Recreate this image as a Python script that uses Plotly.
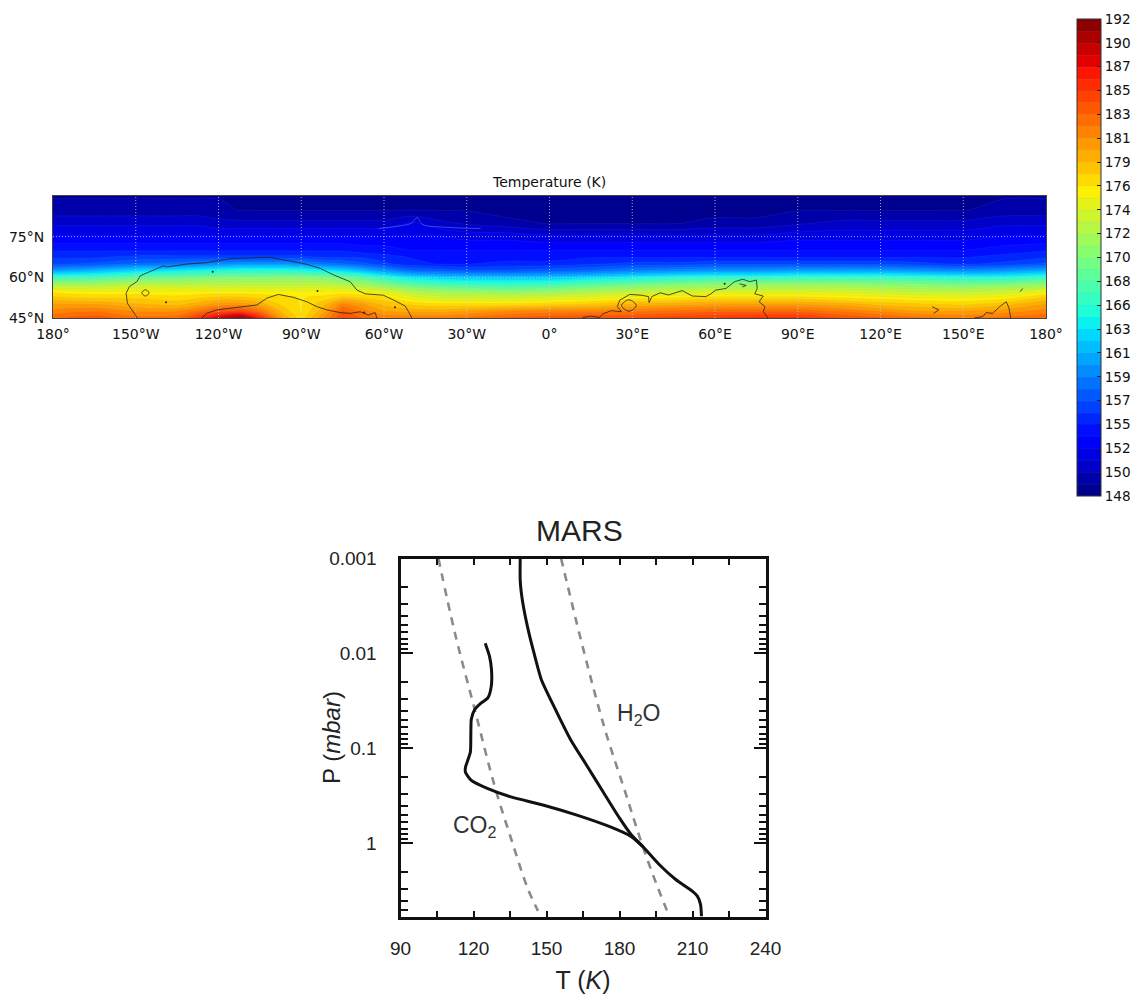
import plotly.graph_objects as go

W, H = 1134, 996

# ---------- temperature map data (K) ----------
lons = [-180,-165,-150,-135,-127,-120,-112,-105,-97,-90,-82,-75,-67,-60,-50,-40,-30,-15,0,15,30,45,60,75,90,105,120,135,150,165,180]
lats = [45,47.5,50,52.5,55,57.5,60,62.5,65,67.5,70,75,80,85,90]
t45 = [183,184,182.5,183,186,189,191.5,187,180,177,181,184.5,183,182,182,182,182.5,183.5,184,184.5,184.5,185,185.5,186,186,184.5,183.5,182.5,182,182.5,183]
t47 = [181.5,182,181,181,182.5,184,185,182.5,178.5,176.5,179.5,183.5,181.5,180,179.5,179.5,180,181,181.5,181.5,182,182.5,183,183,183,182,181,180,180,180.5,181.5]
t50 = [180,180,179,178.5,179.5,180.5,180.5,179.5,177.5,176.5,178.5,181.5,180,178.5,177.5,177,177,177,177.5,178,179,179.5,180,180,180,179.5,178.5,178,177.5,178.5,180]
t52 = [178,177.5,177.5,177,177.5,178,178,177.5,177,176.5,177,178,177.5,177,175,174,174,174,174.5,175,176,176.5,177,177,177,176.5,176,175.5,175.5,176,178]
t55 = [176,175.5,175.5,175.5,175.5,175.5,175.5,175.5,175.5,175.5,175.5,175.5,175,174.5,172.5,171.5,171,170.5,171,172,173,173.5,174,174,174,174,173.5,173,173,173.5,175]
t57 = [172,172,173,173,173,173,173,173,173,173,173,172.5,171.5,170,168,167,166.5,166,166.5,168,169,170,170.5,171,171,171,170.5,170,169.5,170,171]
t60 = [166.5,167,168.5,169,169.5,170,170,170,170.5,170.5,170,169,167.5,165.5,163.5,162.5,162,162,162,163,164,165,165.5,165.5,166,166,166,165.5,165,165,166]
t62 = [160.5,161.5,163,164,164.5,165,165.5,165.5,165.5,165,164,163,161.5,160,158,157.5,157,157,157.5,158,159,159.5,160,160,160.5,160.5,160.5,160,159.5,160,161]
t65 = [156.5,157,158,158.5,159,159.5,160,160,160,159.5,158.5,158,157,156,155,154.5,154.5,155,155,155.5,156,156,156.5,156.5,156.5,156.5,156.5,156,155.5,156,157]
t67 = [155.5,155.5,156,156,156,156,156,156,156,156,155.5,155.5,155.5,155,154.5,154,154,154,154,154.5,154.5,154.5,154.5,154.5,154.5,154.5,154.5,154.5,154.5,155,155.5]
t70 = [154.5,154.5,154.5,154.5,154.5,154.5,154.5,154.5,154.5,154.5,154.5,154.5,154,154,153.5,153.5,153.5,153.5,153.5,153.5,153.5,153.5,153.5,153.5,153.5,153.5,153.5,153.5,153.5,154,154.5]
t75 = [152.5,152.5,152.5,152.5,152.5,152.5,152.5,152.5,152.5,152.5,152.5,152.5,152.5,152.5,152.5,152.5,152,152,151.5,151.5,151.5,151.5,151.5,151.5,152,152,152,152,152,152.5,152.5]
t80 = [151,151,151,151,151,150.5,150.5,150.5,150.5,150.5,150.5,150.5,150.5,150.5,151.5,150.5,150,149.5,149,149,149,149,149.5,149.5,150,150.5,150.5,150.5,150.5,151,151]
t85 = [149.5,149.5,149.5,149.5,149.5,149.5,149,149,149,149,149,149,149,149,149,149,149,148.5,148.5,148.5,148.5,148.5,148.5,148.5,149,149,149,149,149,149.5,149.5]
t90 = [149,149,149,149,149,149,149,149,149,149,149,149,149,149,149,149,149,149,149,149,149,149,149,149,149,149,149,149,149,149,149]

# outlines on the map (lon, lat)
coast1_lon = [-149.4,-153,-153.5,-152.3,-149.6,-148.4,-147,-143,-140,-138.8,-131.5,-124.3,-115.8,-109.7,-101.3,-95.2,-88,-83.1,-78.3,-72.3,-69.8,-66.8,-60.2,-56.5,-52.3,-51.1,-49.9]
coast1_lat = [45,50.4,54.1,56.6,58.4,60.5,61.2,63,64.2,63.8,64.9,65.4,66.9,67.1,67.4,66.2,64.8,63.3,60.9,58.4,55.3,53.9,53.4,51.6,49.4,47.3,45]
coast2_lon = [-126.1,-124.3,-120.6,-112.2,-106.1,-102.5,-98.3,-92.8,-88,-84.4,-80.7,-75.9,-72.3,-68.6,-65.6,-63.2,-62.6]
coast2_lat = [45,46.7,48,49.2,49.8,52.3,53.7,52.6,51,49.2,48,47,46.7,47.3,46.1,47,45]
coast3_lon = [12,15.1,18.1,19.3,22.4,24.8,26.1,24.6,25.5,29.1,33.4,35.9,36.1,37.1,40.1,43.2,48.1,51.8,56.7,58.5,60.3,64,67.1,70.1,72.6,75,75.3,74.4,77.5,76,78.1,77.5,79.3]
coast3_lat = [45.2,45.7,45.2,46.5,47.7,47.3,47.3,49.2,51.6,53.7,53.4,52.9,50.7,52.9,54.3,53.5,55.1,53.1,52.9,53.9,55.3,55.9,58.4,59.3,58.4,59,55.9,53.9,53.1,51,49.2,47.3,45]
coast4_lon = [154,157.1,158.3,160.7,163.2,165.6,166.6,167.2]
coast4_lat = [45,45.5,47,46.7,49.2,51,48.6,45]
ring1_lon = [-147.8,-146.5,-145.2,-146.5,-147.8]
ring1_lat = [54.3,55.4,54.3,53.1,54.3]
ring2_lon = [26.1,28.8,31.5,28.8,26.1]
ring2_lat = [49.6,51.7,49.6,47.5,49.6]
hook1_lon = [138.7,141.1,139.3]
hook1_lat = [49.2,48,46.7]
hook2_lon = [68.9,71.3,69.9]
hook2_lat = [57.6,57,56.5]
stroke_lon = [170.5,171.7]
stroke_lat = [54.7,55.9]
dots_lon = [-122.1,-139,-84.1,-56,-67.2,63.5]
dots_lat = [62.1,50.8,55,49,47,57.6]
bump_lon = [-62,-54,-50,-48,-46,-38,-25]
bump_lat = [78,79,80,82,79.5,78.5,78]

lon_ticks = [-180,-150,-120,-90,-60,-30,0,30,60,90,120,150,180]
lon_labels = ["180°","150°W","120°W","90°W","60°W","30°W","0°","30°E","60°E","90°E","120°E","150°E","180°"]
lat_ticks = [45,60,75]
lat_labels = ["45°N","60°N","75°N"]

cbar_vals = [148,150.2,152.4,154.6,156.8,159,161.2,163.4,165.6,167.8,170,172.2,174.4,176.6,178.8,181,183.2,185.4,187.6,189.8,192]
cbar_labels = ["148","150","152","155","157","159","161","163","166","168","170","172","174","176","179","181","183","185","187","190","192"]

# ---------- Mars profile data ----------
main_T = [139.2,139.2,140.1,142.2,144.9,147.9,153,159.8,166.6,173.3,180.1,184.9,189.6,196.4,203.1,209.9,212,213.3,213.7]
main_P = [0.001,0.00171,0.00277,0.00525,0.01,0.0189,0.0359,0.08,0.152,0.288,0.546,0.815,1.08,1.68,2.4,3.18,3.59,4.39,5.89]
polar_T = [124.8,126.6,127.4,127.3,125.9,123.2,120.5,119.1,118.9,118.7,116.7,116.7,119.1,125.9,135.4,148.9,162.5,176,184.9,189.6]
polar_P = [0.00783,0.0108,0.0149,0.0222,0.0294,0.0331,0.0389,0.0494,0.0738,0.11,0.158,0.178,0.217,0.265,0.324,0.396,0.504,0.667,0.849,1.08]
co2_T = [105.6,112.4,120.5,128.6,135.4,142.2,146.5]
co2_P = [0.001,0.00616,0.0389,0.245,0.883,2.94,5.14]
h2o_T = [156,165.2,174,182.8,188.2,193.7,200.2]
h2o_P = [0.001,0.00918,0.0628,0.312,0.849,2.13,5.66]
T_ticks = [90,120,150,180,210,240]
T_minor = [105,135,165,195,225]
P_ticks = [0.001,0.01,0.1,1]
P_labels = ["0.001","0.01","0.1","1"]
P_minor = [m*10**e for e in (-3,-2,-1) for m in (2,3,4,5,6,7,8,9)] + [2,3,4,5]

jet = [[0,"rgb(0,0,127)"],[0.11,"rgb(0,0,255)"],[0.125,"rgb(0,0,255)"],[0.35,"rgb(0,229,255)"],[0.375,"rgb(20,255,225)"],
       [0.5,"rgb(124,255,121)"],[0.64,"rgb(255,240,0)"],[0.66,"rgb(255,220,0)"],[0.89,"rgb(255,20,0)"],[0.91,"rgb(230,0,0)"],[1,"rgb(127,0,0)"]]

DV = "DejaVu Sans"
LS = "Liberation Sans"
fig = go.Figure()

fig.add_trace(go.Contour(
    x=lons, y=lats, z=[t45,t47,t50,t52,t55,t57,t60,t62,t65,t67,t70,t75,t80,t85,t90],
    colorscale=jet, zmin=148, zmax=192, autocontour=False,
    contours=dict(start=148, end=192, size=1.1, coloring="fill", showlines=True),
    line=dict(width=0.5, color="rgba(130,160,255,0.18)", smoothing=0.85), hoverinfo="skip",
    colorbar=dict(x=1077/W, xanchor="left", y=1-(19+496)/2/H, yanchor="middle", lenmode="pixels", len=477,
                  thicknessmode="pixels", thickness=24, xpad=0, ypad=0,
                  tickmode="array", tickvals=cbar_vals, ticktext=cbar_labels, ticks="inside", ticklen=4,
                  tickcolor="#222", tickfont=dict(family=DV, size=13.6, color="#111"),
                  outlinecolor="#333", outlinewidth=1),
    xaxis="x", yaxis="y"))

# dotted graticule
for v in lon_ticks[1:-1]:
    fig.add_trace(go.Scatter(x=[v, v], y=[45, 90], mode="lines", line=dict(color="rgba(205,205,205,0.8)", width=1, dash="1px,2px"), hoverinfo="skip", showlegend=False))
for v in lat_ticks[1:]:
    fig.add_trace(go.Scatter(x=[-180, 180], y=[v, v], mode="lines", line=dict(color="rgba(205,205,205,0.8)", width=1, dash="1px,2px"), hoverinfo="skip", showlegend=False))

fig.add_trace(go.Scatter(x=bump_lon, y=bump_lat, mode="lines", line=dict(color="rgba(70,90,255,0.8)", width=1, shape="spline"), hoverinfo="skip", showlegend=False))
for cx, cy in [(coast1_lon,coast1_lat),(coast2_lon,coast2_lat),(coast3_lon,coast3_lat),(coast4_lon,coast4_lat),(stroke_lon,stroke_lat),(hook1_lon,hook1_lat),(hook2_lon,hook2_lat)]:
    fig.add_trace(go.Scatter(x=cx, y=cy, mode="lines", line=dict(color="#222", width=0.8), hoverinfo="skip", showlegend=False))
for cx, cy in [(ring1_lon,ring1_lat),(ring2_lon,ring2_lat)]:
    fig.add_trace(go.Scatter(x=cx, y=cy, mode="lines", line=dict(color="#222", width=0.8, shape="spline"), hoverinfo="skip", showlegend=False))
fig.add_trace(go.Scatter(x=dots_lon, y=dots_lat, mode="markers", marker=dict(color="#222", size=2), hoverinfo="skip", showlegend=False))

# Mars profile
fig.add_trace(go.Scatter(x=co2_T, y=co2_P, mode="lines", line=dict(color="#8a8a8a", width=2.6, dash="8px,7px", shape="spline"), xaxis="x2", yaxis="y2", showlegend=False, hoverinfo="skip"))
fig.add_trace(go.Scatter(x=h2o_T, y=h2o_P, mode="lines", line=dict(color="#8a8a8a", width=2.6, dash="8px,7px", shape="spline"), xaxis="x2", yaxis="y2", showlegend=False, hoverinfo="skip"))
fig.add_trace(go.Scatter(x=main_T, y=main_P, mode="lines", line=dict(color="#111", width=3, shape="spline", smoothing=0.6), xaxis="x2", yaxis="y2", showlegend=False, hoverinfo="skip"))
fig.add_trace(go.Scatter(x=polar_T, y=polar_P, mode="lines", line=dict(color="#111", width=3, shape="spline", smoothing=0.6), xaxis="x2", yaxis="y2", showlegend=False, hoverinfo="skip"))

fig.update_layout(
    width=W, height=H, margin=dict(l=0, r=0, t=0, b=0, autoexpand=False), paper_bgcolor="white", plot_bgcolor="white", showlegend=False,
    xaxis=dict(domain=[53/W, 1046/W], range=[-180, 180], tickmode="array", tickvals=lon_ticks, ticktext=lon_labels,
               showgrid=False, zeroline=False, ticks="", tickangle=0, anchor="y", showline=True, mirror=True, linecolor="#444", linewidth=1,
               tickfont=dict(family=DV, size=14, color="#111"), ticklabelstandoff=3),
    yaxis=dict(domain=[1-318/H, 1-196/H], range=[45, 90], tickmode="array", tickvals=lat_ticks, ticktext=lat_labels,
               showgrid=False, zeroline=False, ticks="", anchor="x", showline=True, mirror=True, linecolor="#444", linewidth=1,
               tickfont=dict(family=DV, size=14, color="#111"), ticklabelstandoff=5),
    xaxis2=dict(domain=[400.5/W, 765.5/W], range=[90, 240], anchor="y2", tickmode="array", tickvals=T_ticks, ticks="inside", ticklen=6, tickwidth=2,
                tickcolor="#111", showline=True, mirror="allticks", linecolor="#111", linewidth=3, showgrid=False, zeroline=False,
                minor=dict(tickmode="array", tickvals=T_minor, ticks="inside", ticklen=6, tickwidth=2, tickcolor="#111", showgrid=False),
                tickfont=dict(family=LS, size=19, color="#222"), ticklabelstandoff=13,
                title=dict(text="T (<i>K</i>)", font=dict(family=LS, size=25, color="#222"), standoff=14)),
    yaxis2=dict(domain=[1-916.5/H, 1-558.5/H], type="log", range=[0.77, -3], anchor="x2", tickmode="array", tickvals=P_ticks, ticktext=P_labels,
                ticks="inside", ticklen=12, tickwidth=2, tickcolor="#111", showline=True, mirror="allticks", linecolor="#111", linewidth=3,
                showgrid=False, zeroline=False,
                minor=dict(tickmode="array", tickvals=P_minor, ticks="inside", ticklen=7, tickwidth=1.5, tickcolor="#111", showgrid=False),
                tickfont=dict(family=LS, size=19, color="#222"), ticklabelstandoff=17),
    annotations=[
        dict(text="Temperature (K)", xref="paper", yref="paper", x=549/W, y=1-182/H, showarrow=False, xanchor="center", yanchor="middle",
             font=dict(family=DV, size=14, color="#111")),
        dict(text="MARS", xref="paper", yref="paper", x=579/W, y=1-530/H, showarrow=False, xanchor="center", yanchor="middle",
             font=dict(family=LS, size=30, color="#222")),
        dict(text="P (<i>mbar</i>)", xref="paper", yref="paper", x=331/W, y=1-738/H, showarrow=False, xanchor="center", yanchor="middle", textangle=-90,
             font=dict(family=LS, size=24, color="#222")),
        dict(text="H<sub>2</sub>O", xref="x2", yref="y2", x=188, y=-1.358, showarrow=False, font=dict(family=LS, size=23, color="#333")),
        dict(text="CO<sub>2</sub>", xref="x2", yref="y2", x=120.5, y=-0.176, showarrow=False, font=dict(family=LS, size=23, color="#333")),
    ])

fig.write_html("out.html", config={"displayModeBar": False}, post_script="document.body.style.margin='0';")
